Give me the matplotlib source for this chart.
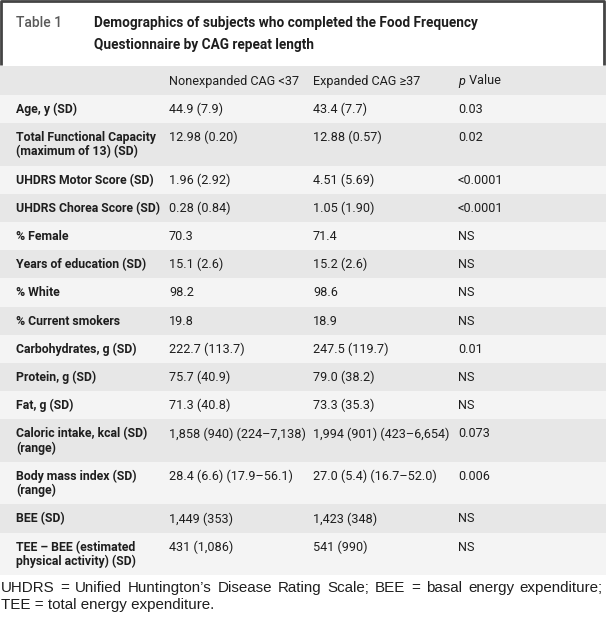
import matplotlib
matplotlib.use("Agg")
import matplotlib.pyplot as plt
from matplotlib.patches import Rectangle

plt.rcParams['font.family'] = ['Roboto', 'DejaVu Sans']

table_no = "Table 1"
title_lines = ["Demographics of subjects who completed the Food Frequency",
               "Questionnaire by CAG repeat length"]
col_headers = ["Nonexpanded CAG <37", "Expanded CAG \u226537", "p Value"]

row_labels = [
    ["Age, y (SD)"],
    ["Total Functional Capacity", "(maximum of 13) (SD)"],
    ["UHDRS Motor Score (SD)"],
    ["UHDRS Chorea Score (SD)"],
    ["% Female"],
    ["Years of education (SD)"],
    ["% White"],
    ["% Current smokers"],
    ["Carbohydrates, g (SD)"],
    ["Protein, g (SD)"],
    ["Fat, g (SD)"],
    ["Caloric intake, kcal (SD)", "(range)"],
    ["Body mass index (SD)", "(range)"],
    ["BEE (SD)"],
    ["TEE \u2013 BEE (estimated", "physical activity) (SD)"],
]
nonexpanded = ["44.9 (7.9)", "12.98 (0.20)", "1.96 (2.92)", "0.28 (0.84)", "70.3",
               "15.1 (2.6)", "98.2", "19.8", "222.7 (113.7)", "75.7 (40.9)",
               "71.3 (40.8)", "1,858 (940) (224\u20137,138)", "28.4 (6.6) (17.9\u201356.1)",
               "1,449 (353)", "431 (1,086)"]
expanded = ["43.4 (7.7)", "12.88 (0.57)", "4.51 (5.69)", "1.05 (1.90)", "71.4",
            "15.2 (2.6)", "98.6", "18.9", "247.5 (119.7)", "79.0 (38.2)",
            "73.3 (35.3)", "1,994 (901) (423\u20136,654)", "27.0 (5.4) (16.7\u201352.0)",
            "1,423 (348)", "541 (990)"]
p_values = ["0.03", "0.02", "<0.0001", "<0.0001", "NS", "NS", "NS", "NS", "0.01",
            "NS", "NS", "0.073", "0.006", "NS", "NS"]
footnote = ["UHDRS = Unified Huntington\u2019s Disease Rating Scale; BEE = basal energy expenditure;",
            "TEE = total energy expenditure."]

W, H = 606, 625
fig = plt.figure(figsize=(W / 100, H / 100), dpi=100)
ax = fig.add_axes([0, 0, 1, 1])
ax.set_xlim(0, W)
ax.set_ylim(H, 0)
ax.axis('off')

dark = '#e7e7e7'
light = '#f4f4f4'
fs = 9.1
col_x = [16, 169, 313, 458]
txt = '#1e1e1e'

# title box
ax.plot([1, 1, 604, 604], [65, 1, 1, 65], color='#444444', lw=2, solid_capstyle='butt')
ax.text(16, 23, table_no, fontsize=10, color='#5a5a5a', weight='medium', va='center')
for i, line in enumerate(title_lines):
    ax.text(94, 23 + 22 * i, line, fontsize=9.8, color=txt, weight='bold', va='center')

# header row
y = 66
ax.add_patch(Rectangle((0, y), W, 29, color=dark, lw=0))
ax.text(col_x[1], y + 15, col_headers[0], fontsize=fs, va='center', color=txt)
ax.text(col_x[2], y + 15, col_headers[1], fontsize=fs, va='center', color=txt)
ax.text(col_x[3], y + 15, col_headers[2][0], fontsize=fs, va='center', color=txt, style='italic')
ax.text(col_x[3] + 8, y + 15, col_headers[2][1:], fontsize=fs, va='center', color=txt)
y += 29

for i, lab in enumerate(row_labels):
    h = 28.2 if len(lab) == 1 else 42.5
    ax.add_patch(Rectangle((0, y), W, h, color=light if i % 2 == 0 else dark, lw=0))
    ty = y + 14.5
    for j, part in enumerate(lab):
        ax.text(col_x[0], ty + 14 * j, part, fontsize=8.8, weight='bold', va='center', color=txt)
    ax.text(col_x[1], ty, nonexpanded[i], fontsize=fs, va='center', color=txt)
    ax.text(col_x[2], ty, expanded[i], fontsize=fs, va='center', color=txt)
    ax.text(col_x[3], ty, p_values[i], fontsize=fs, va='center', color=txt)
    y += h

# footnote, first line justified to full width
renderer = fig.canvas.get_renderer()
fn_font = dict(fontsize=10.9, family=['Liberation Sans', 'DejaVu Sans'], va='center', color=txt)
words = footnote[0].split(' ')
arts = [ax.text(0, 588, w, **fn_font) for w in words]
widths = [a.get_window_extent(renderer).width for a in arts]
gap = (603 - 1 - sum(widths)) / (len(words) - 1)
x = 1
for a, wd in zip(arts, widths):
    a.set_x(x)
    x += wd + gap
ax.text(1, 605, footnote[1], **fn_font)

fig.savefig('out.png', dpi=100)
